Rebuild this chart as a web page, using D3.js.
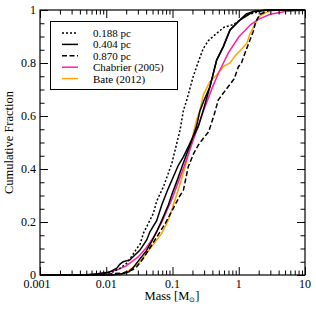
<!DOCTYPE html>
<html>
<head>
<meta charset="utf-8">
<script src="https://cdn.jsdelivr.net/npm/d3@7"></script>
<style>
  body { margin: 0; background: #fff; }
  svg text { font-family: "Liberation Serif", "Times New Roman", serif; fill: #000; }
</style>
</head>
<body>
<div id="chart"></div>
<script>
// mass [Msun] and cumulative fraction
let m188 = [0.0055, 0.008, 0.0128, 0.016, 0.0203, 0.025, 0.0288, 0.0323, 0.0363, 0.0485, 0.0514, 0.058, 0.073, 0.0977, 0.116, 0.13, 0.146, 0.164, 0.206, 0.25, 0.292, 0.35, 0.464, 0.6, 0.83, 1.04, 1.32, 2.1, 2.6];
let f188 = [0, 0.003, 0.0125, 0.025, 0.044, 0.075, 0.1, 0.115, 0.157, 0.22, 0.233, 0.28, 0.333, 0.421, 0.497, 0.547, 0.62, 0.66, 0.75, 0.81, 0.855, 0.885, 0.912, 0.935, 0.945, 0.962, 0.982, 0.994, 1.0];

let m404 = [0.005, 0.008, 0.011, 0.0144, 0.016, 0.018, 0.0228, 0.0323, 0.0408, 0.0456, 0.0577, 0.0688, 0.0865, 0.103, 0.123, 0.146, 0.173, 0.194, 0.245, 0.292, 0.368, 0.464, 0.585, 0.738, 1.04, 1.3, 1.66, 2.8];
let f404 = [0, 0.006, 0.01, 0.026, 0.04, 0.05, 0.057, 0.094, 0.132, 0.163, 0.205, 0.264, 0.327, 0.371, 0.415, 0.446, 0.484, 0.51, 0.56, 0.623, 0.711, 0.811, 0.862, 0.925, 0.962, 0.985, 0.994, 1.0];

// second solid black curve seen in the picture (no legend entry)
let mExtra = [0.012, 0.018, 0.022, 0.026, 0.032, 0.04, 0.048, 0.0577, 0.07, 0.0865, 0.1, 0.118, 0.14, 0.16, 0.19, 0.23, 0.26, 0.3, 0.368, 0.464, 0.585, 0.738, 1.04, 1.66, 2.8];
let fExtra = [0, 0.006, 0.012, 0.03, 0.06, 0.09, 0.125, 0.163, 0.21, 0.264, 0.31, 0.358, 0.41, 0.45, 0.5, 0.56, 0.62, 0.66, 0.711, 0.811, 0.862, 0.925, 0.962, 0.994, 1.0];

let m870 = [0.006, 0.0114, 0.018, 0.0203, 0.025, 0.0288, 0.0363, 0.045, 0.052, 0.065, 0.08, 0.095, 0.109, 0.13, 0.146, 0.173, 0.21, 0.245, 0.292, 0.35, 0.42, 0.49, 0.6, 0.74, 0.85, 0.99, 1.1, 1.24, 1.48, 1.66, 1.8, 2.09, 2.97];
let f870 = [0, 0.004, 0.008, 0.0125, 0.02, 0.031, 0.063, 0.1, 0.125, 0.163, 0.2, 0.235, 0.264, 0.3, 0.32, 0.409, 0.46, 0.49, 0.516, 0.54, 0.6, 0.66, 0.69, 0.72, 0.74, 0.786, 0.80, 0.837, 0.887, 0.92, 0.955, 0.984, 1.0];

let mChab = [0.001, 0.003, 0.005, 0.007, 0.01, 0.015, 0.02, 0.03, 0.04, 0.05, 0.07, 0.1, 0.15, 0.2, 0.3, 0.4, 0.5, 0.7, 1, 1.5, 2, 3, 5, 7, 10];
let fChab = [0, 0.0005, 0.0018, 0.0041, 0.009, 0.0204, 0.0345, 0.0671, 0.1019, 0.1368, 0.2035, 0.292, 0.41, 0.5, 0.626, 0.708, 0.765, 0.839, 0.898, 0.944, 0.9655, 0.9837, 0.9945, 0.9975, 0.999];

let mBate = [0.0162, 0.02, 0.0256, 0.03, 0.0383, 0.0485, 0.0688, 0.0865, 0.109, 0.122, 0.16, 0.231, 0.26, 0.292, 0.368, 0.464, 0.585, 0.738, 0.9, 1.04, 1.32, 1.48, 1.75, 2.09, 2.64, 3.7];
let fBate = [0, 0.01, 0.03, 0.04, 0.075, 0.107, 0.157, 0.208, 0.283, 0.321, 0.42, 0.585, 0.623, 0.68, 0.73, 0.755, 0.786, 0.80, 0.83, 0.845, 0.874, 0.91, 0.946, 0.978, 0.992, 1.0];

let xMajor = [0.001, 0.01, 0.1, 1, 10];
let yMajor = [0, 0.2, 0.4, 0.6, 0.8, 1];
let yMinor = [0.05, 0.1, 0.15, 0.25, 0.3, 0.35, 0.45, 0.5, 0.55, 0.65, 0.7, 0.75, 0.85, 0.9, 0.95];

let series = [
    { name: "0.188 pc", m: m188, f: f188, color: "#000", dash: "2,2" },
    { name: "0.404 pc", m: m404, f: f404, color: "#000", dash: null },
    { name: "0.870 pc", m: m870, f: f870, color: "#000", dash: "5,2.5" },
    { name: "Chabrier (2005)", m: mChab, f: fChab, color: "#ff1fa5", dash: null },
    { name: "Bate (2012)", m: mBate, f: fBate, color: "#ffa500", dash: null }
];
let extra = { name: "", m: mExtra, f: fExtra, color: "#000", dash: null };

let width = 316, height = 316;
let margin = { "top": 10, "bottom": 41, "right": 11, "left": 40 };

let svg = d3.select('#chart').append('svg').attr('width', width).attr('height', height);

let xScale = d3.scaleLog()
    .domain([0.001, 10])
    .range([margin.left, width - margin.right]);
let yScale = d3.scaleLinear()
    .domain([0, 1])
    .range([height - margin.bottom, margin.top]);

let xMinor = [];
xMajor.slice(0, -1).forEach(function (d) {
    for (let k = 2; k <= 9; k++) xMinor.push(d * k);
});

// curves
let line = d3.line()
    .x(function (d) { return xScale(d[0]); })
    .y(function (d) { return yScale(d[1]); });

let drawOrder = [series[4], series[3], series[2], extra, series[1], series[0]];
drawOrder.forEach(function (s) {
    let pts = s.m.map(function (d, i) { return [d, s.f[i]]; });
    // extend to the frame edges like the original plot
    pts.unshift([0.001, 0]);
    pts.push([10, 1]);
    svg.append('path')
        .attr('d', line(pts))
        .attr('fill', 'none')
        .attr('stroke', s.color)
        .attr('stroke-width', 1.5)
        .attr('stroke-dasharray', s.dash);
});

// ticks, all pointing inwards
let x0 = height - margin.bottom, x1 = margin.top;
let y0 = margin.left, y1 = width - margin.right;

function tickAxis(axis, vals, size, tr) {
    let g = svg.append('g')
        .attr('transform', tr)
        .call(axis.tickValues(vals).tickSizeInner(size).tickSizeOuter(0).tickFormat(''));
    g.select('.domain').remove();
    g.selectAll('line').attr('stroke', '#000');
    return g;
}
tickAxis(d3.axisBottom(xScale), xMajor, -8, 'translate(0,' + x0 + ')');
tickAxis(d3.axisBottom(xScale), xMinor, -4.5, 'translate(0,' + x0 + ')');
tickAxis(d3.axisTop(xScale), xMajor, -8, 'translate(0,' + x1 + ')');
tickAxis(d3.axisTop(xScale), xMinor, -4.5, 'translate(0,' + x1 + ')');
tickAxis(d3.axisLeft(yScale), yMajor, -8, 'translate(' + y0 + ',0)');
tickAxis(d3.axisLeft(yScale), yMinor, -4.5, 'translate(' + y0 + ',0)');
tickAxis(d3.axisRight(yScale), yMajor, -8, 'translate(' + y1 + ',0)');
tickAxis(d3.axisRight(yScale), yMinor, -4.5, 'translate(' + y1 + ',0)');

// frame
svg.append('rect')
    .attr('x', margin.left)
    .attr('y', margin.top)
    .attr('width', width - margin.left - margin.right)
    .attr('height', height - margin.top - margin.bottom)
    .attr('fill', 'none')
    .attr('stroke', '#000')
    .attr('stroke-width', 1.2);

// tick labels
svg.append('g').selectAll('text')
    .data(xMajor)
    .enter()
    .append('text')
    .attr('x', function (d) { return xScale(d) - (d === 0.001 ? 3 : 0); })
    .attr('y', x0 + 13)
    .attr('text-anchor', 'middle')
    .attr('font-size', 12)
    .text(function (d) { return d3.format('~g')(d); });

svg.append('g').selectAll('text')
    .data(yMajor)
    .enter()
    .append('text')
    .attr('x', margin.left - 4)
    .attr('y', function (d) { return yScale(d) + 3.5; })
    .attr('text-anchor', 'end')
    .attr('font-size', 12)
    .text(function (d) { return d3.format('~g')(d); });

// axis titles
let xt = svg.append('text')
    .attr('x', 172)
    .attr('y', 300)
    .attr('text-anchor', 'middle')
    .attr('font-size', 12.5);
xt.append('tspan').text('Mass [M');
xt.append('tspan').attr('font-size', 7).attr('dy', 2).text('⊙');
xt.append('tspan').attr('dy', -2).text(']');

svg.append('text')
    .attr('transform', 'translate(13,' + ((margin.top + x0) / 2) + ') rotate(-90)')
    .attr('text-anchor', 'middle')
    .attr('font-size', 12.5)
    .text('Cumulative Fraction');

// legend
let lg = svg.append('g');
lg.append('rect')
    .attr('x', 50.5)
    .attr('y', 21.5)
    .attr('width', 127)
    .attr('height', 68)
    .attr('fill', '#fff')
    .attr('stroke', '#000')
    .attr('stroke-width', 1);
series.forEach(function (s, i) {
    let y = 33 + i * 11.4;
    lg.append('line')
        .attr('x1', 62).attr('x2', 78)
        .attr('y1', y).attr('y2', y)
        .attr('stroke', s.color)
        .attr('stroke-width', 1.5)
        .attr('stroke-dasharray', s.dash);
    lg.append('text')
        .attr('x', 93)
        .attr('y', y + 4)
        .attr('font-size', 11)
        .text(s.name);
});
</script>
</body>
</html>
